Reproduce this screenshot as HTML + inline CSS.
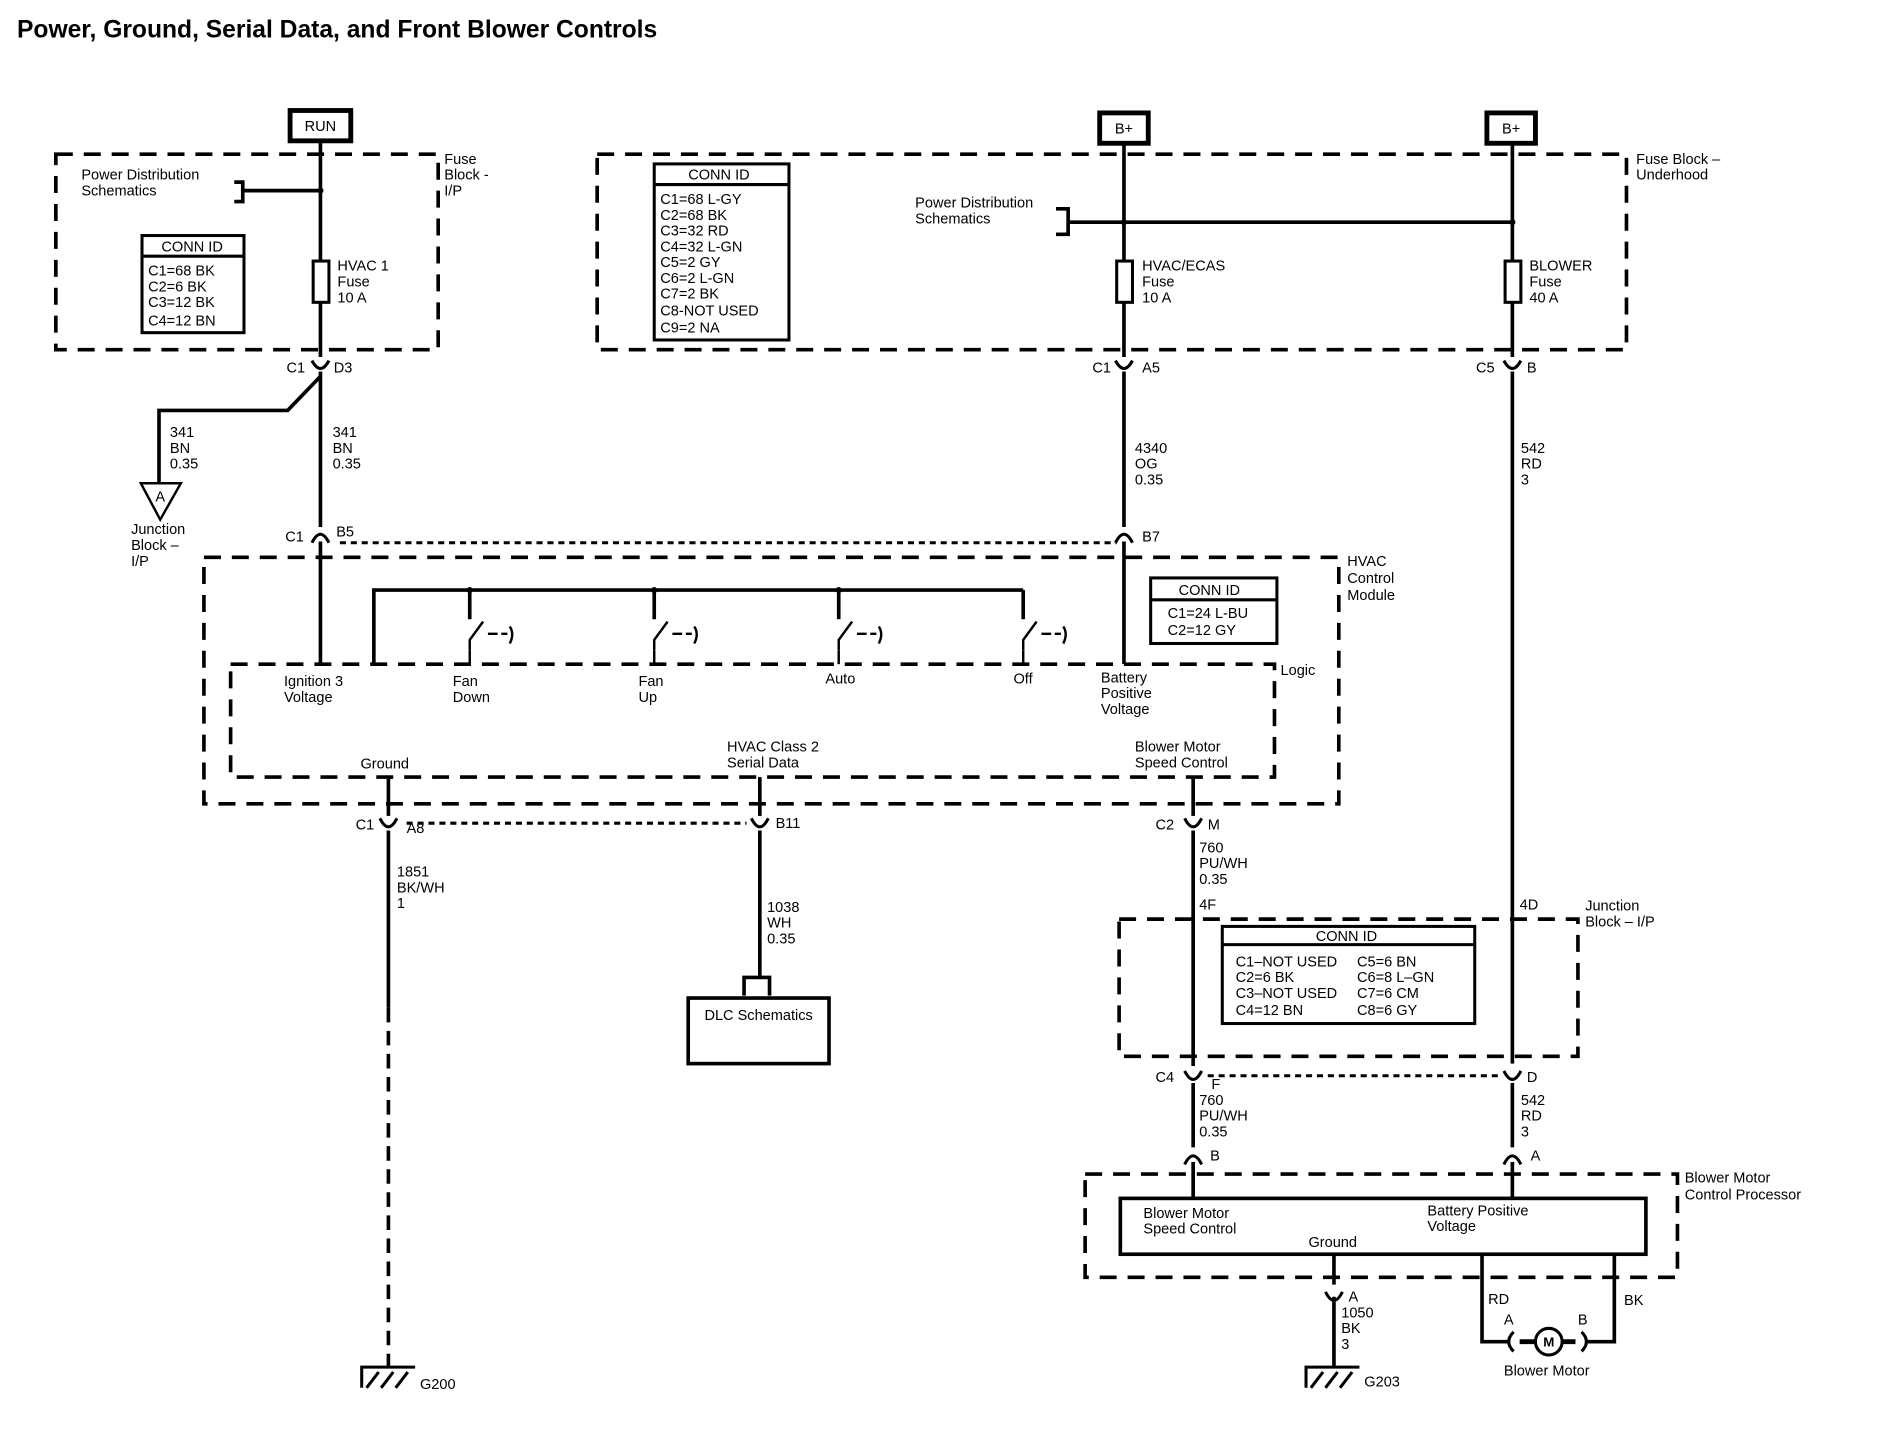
<!DOCTYPE html>
<html><head><meta charset="utf-8"><style>
html,body{margin:0;padding:0;background:#fff;}
svg{display:block;}
text{font-family:"Liberation Sans",Arial,sans-serif;font-size:12px;fill:#000;}
.b{font-weight:bold;}
</style></head><body>
<svg width="1902" height="1440" viewBox="0 0 1567 1186" preserveAspectRatio="none" xmlns="http://www.w3.org/2000/svg">
<g fill="none" stroke="#000">
<g stroke-width="3" stroke-dasharray="14,9">
<rect x="46" y="127" width="315" height="161"/>
<rect x="492" y="127" width="848" height="161"/>
<rect x="168" y="459" width="935" height="203"/>
<rect x="190" y="547" width="860" height="93"/>
<rect x="922" y="757" width="378" height="113"/>
<rect x="894" y="967" width="488" height="85"/>
</g>
<g stroke-width="2.5" stroke-dasharray="5,4">
<line x1="280" y1="447" x2="920" y2="447"/>
<line x1="335" y1="678" x2="615" y2="678"/>
<line x1="995" y1="886" x2="1238" y2="886"/>
</g>
<rect x="239" y="91" width="50" height="25" stroke-width="4"/>
<rect x="906" y="93" width="40" height="25" stroke-width="4"/>
<rect x="1225" y="93" width="40" height="25" stroke-width="4"/>
<g stroke-width="3">
<line x1="264" y1="117" x2="264" y2="294"/>
<line x1="264" y1="306" x2="264" y2="434"/>
<line x1="264" y1="446" x2="264" y2="547"/>
<path d="M264 310 L237 338 L131 338 L131 398"/>
<path d="M193 150 L200 150 L200 166 L193 166"/>
<line x1="200" y1="157" x2="264" y2="157"/>
<line x1="926" y1="118" x2="926" y2="294"/>
<line x1="926" y1="306" x2="926" y2="434"/>
<line x1="926" y1="446" x2="926" y2="547"/>
<path d="M870 172 L880 172 L880 193 L870 193"/>
<line x1="880" y1="183" x2="1246" y2="183"/>
<line x1="1246" y1="118" x2="1246" y2="294"/>
<line x1="1246" y1="306" x2="1246" y2="876"/>
<line x1="1246" y1="892" x2="1246" y2="945"/>
<line x1="1246" y1="957" x2="1246" y2="987"/>
<path d="M308 547 L308 486 L843 486"/>
<line x1="387" y1="486" x2="387" y2="510"/>
<line x1="539" y1="486" x2="539" y2="510"/>
<line x1="691" y1="486" x2="691" y2="510"/>
<line x1="843" y1="486" x2="843" y2="510"/>
<line x1="320" y1="640" x2="320" y2="672"/>
<line x1="320" y1="684" x2="320" y2="830"/>
<line x1="626" y1="640" x2="626" y2="672"/>
<line x1="626" y1="684" x2="626" y2="805"/>
<path d="M613 820 L613 805 L634 805 L634 820"/>
<line x1="983" y1="640" x2="983" y2="672"/>
<line x1="983" y1="684" x2="983" y2="878"/>
<line x1="983" y1="892" x2="983" y2="945"/>
<line x1="983" y1="957" x2="983" y2="987"/>
<rect x="567" y="822" width="116" height="54"/>
<rect x="923" y="987" width="433" height="46"/>
<line x1="1099" y1="1033" x2="1099" y2="1058"/>
<line x1="1099" y1="1068" x2="1099" y2="1125"/>
<path d="M1221 1033 L1221 1105 L1243 1105"/>
<path d="M1330 1033 L1330 1105 L1308 1105"/>
<line x1="1252" y1="1105" x2="1298" y2="1105" stroke-width="4"/>
</g>
<line x1="320" y1="830" x2="320" y2="1125" stroke-width="3" stroke-dasharray="12,7"/>
<g stroke-width="2">
<path d="M387 536 L387 527 L398 512"/><line x1="387" y1="536" x2="387" y2="547"/>
<path d="M402 522 H410 M413 522 H418 M420 516 Q424 522 420 530"/>
<path d="M539 536 L539 527 L550 512"/><line x1="539" y1="536" x2="539" y2="547"/>
<path d="M554 522 H562 M565 522 H570 M572 516 Q576 522 572 530"/>
<path d="M691 536 L691 527 L702 512"/><line x1="691" y1="536" x2="691" y2="547"/>
<path d="M706 522 H714 M717 522 H722 M724 516 Q728 522 724 530"/>
<path d="M843 536 L843 527 L854 512"/><line x1="843" y1="536" x2="843" y2="547"/>
<path d="M858 522 H866 M869 522 H874 M876 516 Q880 522 876 530"/>
</g>
<g stroke-width="2.5" fill="#fff">
<rect x="258" y="215" width="13" height="34"/>
<rect x="920" y="215" width="13" height="34"/>
<rect x="1240" y="215" width="13" height="34"/>
</g>
<g stroke-width="2.5">
<path d="M257 297 Q264 310 271 297"/>
<path d="M919 297 Q926 310 933 297"/>
<path d="M1239 297 Q1246 310 1253 297"/>
<path d="M313 674 Q320 688 327 674"/>
<path d="M619 674 Q626 688 633 674"/>
<path d="M976 674 Q983 688 990 674"/>
<path d="M976 882 Q983 896 990 882"/>
<path d="M1239 882 Q1246 896 1253 882"/>
<path d="M1092 1064 Q1099 1078 1106 1064"/>
<path d="M257 447 Q264 433 271 447"/>
<path d="M919 447 Q926 433 933 447"/>
<path d="M976 959 Q983 945 990 959"/>
<path d="M1239 959 Q1246 945 1253 959"/>
<path d="M1247 1097 Q1239 1105 1247 1113"/>
<path d="M1303 1097 Q1311 1105 1303 1113"/>
</g>
<circle cx="1276" cy="1105" r="11" stroke-width="2.5" fill="#fff"/>
<path d="M116 398 L149 398 L132 428 Z" stroke-width="2"/>
<g stroke-width="2.5">
<path d="M298 1143 L298 1126 L342 1126"/>
<path d="M302 1143 L312 1130 M314 1143 L324 1130 M326 1143 L336 1130"/>
<path d="M1076 1143 L1076 1126 L1120 1126"/>
<path d="M1080 1143 L1090 1130 M1092 1143 L1102 1130 M1104 1143 L1114 1130"/>
</g>
<g stroke-width="2.5">
<rect x="117" y="194" width="84" height="80"/><line x1="117" y1="211" x2="201" y2="211"/>
<rect x="539" y="135" width="111" height="145"/><line x1="539" y1="152" x2="650" y2="152"/>
<rect x="948" y="476" width="104" height="54"/><line x1="948" y1="494" x2="1052" y2="494"/>
<rect x="1007" y="763" width="208" height="80"/><line x1="1007" y1="778" x2="1215" y2="778"/>
</g>
</g>
<g fill="#000">
<circle cx="264" cy="157" r="2.5"/><circle cx="926" cy="183" r="2.5"/><circle cx="1246" cy="183" r="2.5"/>
<circle cx="387" cy="486" r="2.5"/><circle cx="539" cy="486" r="2.5"/><circle cx="691" cy="486" r="2.5"/>
</g>
<text x="14" y="31" class="b" style="font-size:20.3px">Power, Ground, Serial Data, and Front Blower Controls</text>
<text x="264" y="108" text-anchor="middle">RUN</text>
<text x="926" y="110" text-anchor="middle">B+</text>
<text x="1245" y="110" text-anchor="middle">B+</text>
<text x="132" y="413" text-anchor="middle">A</text>
<text x="1276" y="1109" text-anchor="middle" style="font-size:11px" class="b">M</text>
<g style="font-size:12px">
<text x="366" y="135">Fuse</text><text x="366" y="148">Block -</text><text x="366" y="161">I/P</text>
<text x="67" y="148">Power Distribution</text><text x="67" y="161">Schematics</text>
<text x="133" y="207">CONN ID</text>
<text x="122" y="227">C1=68 BK</text><text x="122" y="240">C2=6 BK</text><text x="122" y="253">C3=12 BK</text><text x="122" y="268">C4=12 BN</text>
<text x="278" y="223">HVAC 1</text><text x="278" y="236">Fuse</text><text x="278" y="249">10 A</text>
<text x="236" y="307">C1</text><text x="275" y="307">D3</text>
<text x="140" y="360">341</text><text x="140" y="373">BN</text><text x="140" y="386">0.35</text>
<text x="274" y="360">341</text><text x="274" y="373">BN</text><text x="274" y="386">0.35</text>
<text x="108" y="440">Junction</text><text x="108" y="453">Block –</text><text x="108" y="466">I/P</text>
<text x="235" y="446">C1</text><text x="277" y="442">B5</text>
<text x="567" y="148">CONN ID</text>
<text x="544" y="168">C1=68 L-GY</text><text x="544" y="181">C2=68 BK</text><text x="544" y="194">C3=32 RD</text><text x="544" y="207">C4=32 L-GN</text><text x="544" y="220">C5=2 GY</text><text x="544" y="233">C6=2 L-GN</text><text x="544" y="246">C7=2 BK</text><text x="544" y="260">C8-NOT USED</text><text x="544" y="274">C9=2 NA</text>
<text x="754" y="171">Power Distribution</text><text x="754" y="184">Schematics</text>
<text x="941" y="223">HVAC/ECAS</text><text x="941" y="236">Fuse</text><text x="941" y="249">10 A</text>
<text x="1260" y="223">BLOWER</text><text x="1260" y="236">Fuse</text><text x="1260" y="249">40 A</text>
<text x="1348" y="135">Fuse Block –</text><text x="1348" y="148">Underhood</text>
<text x="900" y="307">C1</text><text x="941" y="307">A5</text>
<text x="1216" y="307">C5</text><text x="1258" y="307">B</text>
<text x="935" y="373">4340</text><text x="935" y="386">OG</text><text x="935" y="399">0.35</text>
<text x="1253" y="373">542</text><text x="1253" y="386">RD</text><text x="1253" y="399">3</text>
<text x="941" y="446">B7</text>
<text x="1110" y="466">HVAC</text><text x="1110" y="480">Control</text><text x="1110" y="494">Module</text>
<text x="1055" y="556">Logic</text>
<text x="971" y="490">CONN ID</text>
<text x="962" y="509">C1=24 L-BU</text><text x="962" y="523">C2=12 GY</text>
<text x="234" y="565">Ignition 3</text><text x="234" y="578">Voltage</text>
<text x="373" y="565">Fan</text><text x="373" y="578">Down</text>
<text x="526" y="565">Fan</text><text x="526" y="578">Up</text>
<text x="680" y="563">Auto</text>
<text x="835" y="563">Off</text>
<text x="907" y="562">Battery</text><text x="907" y="575">Positive</text><text x="907" y="588">Voltage</text>
<text x="599" y="619">HVAC Class 2</text><text x="599" y="632">Serial Data</text>
<text x="297" y="633">Ground</text>
<text x="935" y="619">Blower Motor</text><text x="935" y="632">Speed Control</text>
<text x="293" y="683">C1</text><text x="335" y="686">A8</text>
<text x="639" y="682">B11</text>
<text x="952" y="683">C2</text><text x="995" y="683">M</text>
<text x="327" y="722">1851</text><text x="327" y="735">BK/WH</text><text x="327" y="748">1</text>
<text x="632" y="751">1038</text><text x="632" y="764">WH</text><text x="632" y="777">0.35</text>
<text x="988" y="702">760</text><text x="988" y="715">PU/WH</text><text x="988" y="728">0.35</text>
<text x="988" y="749">4F</text><text x="1252" y="749">4D</text>
<text x="1306" y="750">Junction</text><text x="1306" y="763">Block – I/P</text>
<text x="1084" y="775">CONN ID</text>
<text x="1018" y="796">C1–NOT USED</text><text x="1018" y="809">C2=6 BK</text><text x="1018" y="822">C3–NOT USED</text><text x="1018" y="836">C4=12 BN</text>
<text x="1118" y="796">C5=6 BN</text><text x="1118" y="809">C6=8 L–GN</text><text x="1118" y="822">C7=6 CM</text><text x="1118" y="836">C8=6 GY</text>
<text x="952" y="891">C4</text><text x="998" y="897">F</text><text x="1258" y="891">D</text>
<text x="988" y="910">760</text><text x="988" y="923">PU/WH</text><text x="988" y="936">0.35</text>
<text x="1253" y="910">542</text><text x="1253" y="923">RD</text><text x="1253" y="936">3</text>
<text x="997" y="956">B</text><text x="1261" y="956">A</text>
<text x="625" y="840" text-anchor="middle">DLC Schematics</text>
<text x="1388" y="974">Blower Motor</text><text x="1388" y="988">Control Processor</text>
<text x="942" y="1003">Blower Motor</text><text x="942" y="1016">Speed Control</text>
<text x="1176" y="1001">Battery Positive</text><text x="1176" y="1014">Voltage</text>
<text x="1078" y="1027">Ground</text>
<text x="1111" y="1072">A</text>
<text x="1105" y="1085">1050</text><text x="1105" y="1098">BK</text><text x="1105" y="1111">3</text>
<text x="1226" y="1074">RD</text><text x="1338" y="1075">BK</text>
<text x="1239" y="1091">A</text><text x="1300" y="1091">B</text>
<text x="1239" y="1133">Blower Motor</text>
<text x="346" y="1144">G200</text><text x="1124" y="1142">G203</text>
</g>
</svg>
</body></html>
